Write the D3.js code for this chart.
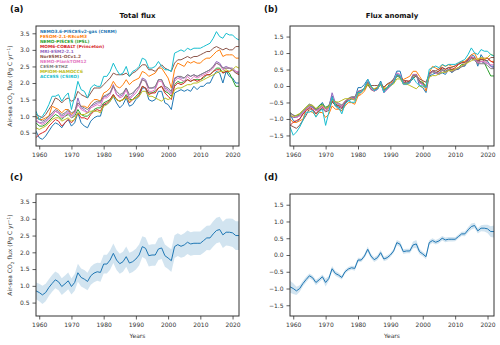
<!DOCTYPE html>
<html>
<head>
<meta charset="utf-8">
<script src="https://cdn.jsdelivr.net/npm/d3@7"></script>
<style>
  body { margin: 0; background: #fff; }
  svg { font-family: "DejaVu Sans", sans-serif; }
</style>
</head>
<body>
<svg width="500" height="345"></svg>
<script>
const svg = d3.select("svg")

// years 1959..2022
const years = d3.range(1959, 2023)

const modelNames = [
    "NEMO3.6-PISCESv2-gas (CNRM)", "FESOM-2.1-REcoM3", "NEMO-PISCES (IPSL)",
    "MOM6-COBALT (Princeton)", "MRI-ESM2-2.1", "NorESM1-OCv1.2",
    "NEMO-PlankTOM12", "CESM-ETHZ", "MPIOM-HAMOCC6", "ACCESS (CSIRO)"
]
const modelColors = ["#1f77b4", "#ff7f0e", "#2ca02c", "#d62728", "#9467bd",
    "#8c564b", "#e377c2", "#7f7f7f", "#bcbd22", "#17becf"]

// total flux per model, Pg C / yr, 1959-2022
const cnrm = [0.55, 0.35, 0.3, 0.4, 0.55, 0.7, 0.8, 0.75, 0.65, 0.8, 0.9,
    0.7, 0.8, 1.1, 0.8, 0.7, 0.65, 0.85, 0.95, 1.0, 1.0,
    1.35, 1.35, 1.45, 1.6, 1.4, 1.25, 1.35, 1.55, 1.3, 1.35,
    1.5, 1.6, 1.85, 1.85, 1.5, 1.45, 1.5, 1.75, 1.75, 1.4,
    1.35, 1.2, 1.7, 1.75, 1.8, 1.75, 1.8, 1.75, 1.9, 1.8,
    1.9, 1.9, 2.0, 2.0, 2.2, 2.35, 2.3, 2.0, 2.35, 2.2,
    2.15, 2.0, 2.0]
const fesom = [1.0, 0.9, 0.9, 0.95, 1.0, 1.3, 1.25, 1.2, 1.1, 1.2, 1.2,
    1.05, 1.15, 1.4, 1.3, 1.3, 1.25, 1.4, 1.5, 1.5, 1.45,
    1.7, 1.75, 1.85, 2.05, 1.9, 1.85, 1.95, 2.1, 1.95, 2.05,
    2.1, 2.15, 2.35, 2.3, 2.2, 2.25, 2.3, 2.45, 2.45, 2.3,
    2.15, 1.85, 2.4, 2.6, 2.55, 2.5, 2.65, 2.6, 2.65, 2.6,
    2.6, 2.7, 2.75, 2.75, 2.85, 2.95, 3.0, 2.8, 2.85, 2.85,
    2.85, 2.75, 2.75]
const ipsl = [0.8, 0.7, 0.7, 0.75, 0.85, 0.95, 1.05, 1.0, 0.9, 1.0, 1.05,
    0.95, 1.0, 1.2, 1.05, 1.0, 1.0, 1.1, 1.2, 1.25, 1.25,
    1.4, 1.45, 1.5, 1.65, 1.5, 1.45, 1.5, 1.65, 1.5, 1.5,
    1.6, 1.7, 1.9, 1.85, 1.7, 1.7, 1.75, 1.85, 1.9, 1.75,
    1.7, 1.6, 1.95, 2.05, 2.0, 2.05, 2.1, 2.05, 2.1, 2.1,
    2.1, 2.15, 2.25, 2.25, 2.35, 2.45, 2.45, 2.3, 2.35, 2.3,
    2.1, 1.9, 1.9]
const princeton = [0.35, 0.45, 0.5, 0.55, 0.7, 0.8, 0.9, 0.85, 0.7, 0.8, 0.9,
    0.8, 0.9, 1.1, 0.95, 0.95, 0.9, 1.05, 1.15, 1.2, 1.15,
    1.35, 1.4, 1.5, 1.65, 1.5, 1.45, 1.5, 1.6, 1.4, 1.5,
    1.55, 1.65, 1.9, 1.85, 1.65, 1.7, 1.7, 1.85, 1.9, 1.7,
    1.6, 1.5, 1.9, 2.0, 1.95, 2.0, 2.1, 2.05, 2.1, 2.05,
    2.1, 2.2, 2.25, 2.25, 2.35, 2.4, 2.4, 2.3, 2.35, 2.35,
    2.4, 2.3, 2.25]
const mri = [0.85, 0.8, 0.8, 0.85, 0.95, 1.05, 1.15, 1.1, 1.0, 1.05, 1.15,
    1.0, 1.1, 1.55, 1.25, 1.2, 1.1, 1.3, 1.35, 1.4, 1.4,
    1.6, 1.6, 1.7, 1.95, 1.65, 1.6, 1.65, 1.85, 1.55, 1.65,
    1.8, 1.9, 2.15, 2.1, 1.85, 1.85, 1.85, 2.1, 2.1, 1.85,
    1.8, 1.7, 2.15, 2.2, 2.15, 2.15, 2.25, 2.2, 2.25, 2.2,
    2.25, 2.3, 2.35, 2.4, 2.5, 2.65, 2.6, 2.45, 2.5, 2.45,
    2.45, 2.35, 2.3]
const noresm = [1.05, 1.0, 0.95, 1.05, 1.2, 1.35, 1.55, 1.5, 1.4, 1.5, 1.55,
    1.45, 1.5, 1.75, 1.65, 1.6, 1.55, 1.7, 1.85, 1.85, 1.85,
    1.95, 2.05, 2.15, 2.3, 2.25, 2.25, 2.25, 2.3, 2.2, 2.3,
    2.35, 2.45, 2.55, 2.55, 2.4, 2.4, 2.35, 2.45, 2.55, 2.45,
    2.4, 2.35, 2.6, 2.7, 2.7, 2.75, 2.8, 2.75, 2.8, 2.8,
    2.85, 2.9, 2.95, 2.95, 3.05, 3.1, 3.05, 3.0, 3.05, 3.0,
    3.0, 3.1, 3.1]
const plankTom = [0.9, 0.8, 0.75, 0.8, 0.9, 1.0, 1.15, 1.1, 0.95, 1.0, 1.1,
    0.95, 1.05, 1.35, 1.2, 1.15, 1.1, 1.25, 1.3, 1.35, 1.3,
    1.55, 1.55, 1.65, 1.9, 1.65, 1.55, 1.6, 1.8, 1.5, 1.6,
    1.7, 1.85, 2.1, 2.05, 1.75, 1.75, 1.8, 2.05, 2.05, 1.8,
    1.75, 1.65, 2.05, 2.15, 2.1, 2.05, 2.2, 2.1, 2.2, 2.15,
    2.2, 2.25, 2.3, 2.35, 2.45, 2.6, 2.55, 2.4, 2.45, 2.45,
    2.4, 2.35, 2.35]
const cesm = [0.95, 0.9, 0.85, 0.9, 1.0, 1.1, 1.2, 1.15, 1.05, 1.1, 1.2,
    1.1, 1.15, 1.4, 1.3, 1.25, 1.2, 1.3, 1.4, 1.45, 1.45,
    1.6, 1.65, 1.7, 1.9, 1.75, 1.65, 1.7, 1.85, 1.65, 1.7,
    1.8, 1.9, 2.1, 2.05, 1.85, 1.85, 1.9, 2.1, 2.1, 1.9,
    1.85, 1.75, 2.1, 2.2, 2.2, 2.15, 2.25, 2.2, 2.25, 2.2,
    2.25, 2.3, 2.35, 2.4, 2.5, 2.6, 2.55, 2.45, 2.45, 2.45,
    2.4, 2.3, 2.3]
const mpiom = [0.65, 0.6, 0.65, 0.7, 0.8, 0.9, 0.95, 0.95, 0.85, 0.9, 0.95,
    0.85, 0.9, 1.1, 1.05, 1.05, 1.1, 1.15, 1.15, 1.15, 1.1,
    1.3, 1.35, 1.45, 1.6, 1.5, 1.45, 1.5, 1.55, 1.45, 1.5,
    1.55, 1.6, 1.75, 1.75, 1.6, 1.6, 1.55, 1.5, 1.45, 1.55,
    1.5, 1.55, 1.8, 1.85, 1.85, 1.9, 1.95, 1.95, 2.0, 2.0,
    2.05, 2.1, 2.15, 2.2, 2.25, 2.3, 2.35, 2.35, 2.4, 2.35,
    2.4, 2.5, 2.45]
const access = [1.15, 0.9, 1.0, 1.15, 1.35, 1.6, 1.6, 1.65, 1.45, 1.6, 1.7,
    1.2, 1.6, 2.05, 1.8, 1.75, 1.55, 1.85, 1.95, 1.9, 1.9,
    2.2, 2.2, 2.35, 2.6, 2.4, 2.25, 2.3, 2.5, 2.2, 2.35,
    2.4, 2.5, 2.75, 2.7, 2.45, 2.45, 2.5, 2.65, 2.5, 2.4,
    2.4, 2.35, 2.9, 2.95, 3.0, 2.95, 3.05, 3.0, 3.05, 3.05,
    3.05, 3.1, 3.15, 3.2, 3.35, 3.55, 3.4, 3.35, 3.5, 3.45,
    3.45, 3.35, 3.3]

const models = [cnrm, fesom, ipsl, princeton, mri, noresm, plankTom, cesm, mpiom, access]

// ensemble mean and spread (c) and (d)
const totalMean = [0.85, 0.8, 0.73, 0.8, 0.95, 1.07, 1.18, 1.12, 0.98, 1.06, 1.15,
    0.98, 1.1, 1.39, 1.25, 1.2, 1.13, 1.3, 1.38, 1.42, 1.4,
    1.65, 1.65, 1.77, 1.97, 1.77, 1.66, 1.72, 1.87, 1.68, 1.72,
    1.8, 1.92, 2.17, 2.12, 1.9, 1.92, 1.92, 2.1, 2.13, 1.9,
    1.83, 1.75, 2.17, 2.23, 2.18, 2.22, 2.3, 2.25, 2.27, 2.27,
    2.27, 2.35, 2.43, 2.43, 2.55, 2.65, 2.68, 2.52, 2.6, 2.6,
    2.58, 2.5, 2.5]
const totalStd = [0.25, 0.26, 0.27, 0.26, 0.25, 0.25, 0.25, 0.25, 0.25, 0.25, 0.25,
    0.24, 0.25, 0.27, 0.27, 0.27, 0.26, 0.27, 0.27, 0.27, 0.28,
    0.28, 0.28, 0.29, 0.29, 0.3, 0.3, 0.3, 0.3, 0.31, 0.31,
    0.31, 0.31, 0.31, 0.32, 0.32, 0.32, 0.32, 0.33, 0.33, 0.33,
    0.33, 0.34, 0.34, 0.34, 0.34, 0.35, 0.35, 0.35, 0.35, 0.35,
    0.35, 0.36, 0.36, 0.37, 0.38, 0.38, 0.38, 0.39, 0.4, 0.41,
    0.42, 0.43, 0.43]
const anomMean = [-0.95, -1.0, -1.07, -1.0, -0.85, -0.73, -0.62, -0.68, -0.82, -0.74, -0.65,
    -0.82, -0.7, -0.41, -0.55, -0.6, -0.67, -0.5, -0.42, -0.38, -0.4,
    -0.15, -0.15, -0.03, 0.17, -0.03, -0.14, -0.08, 0.07, -0.12, -0.08,
    0.0, 0.12, 0.37, 0.32, 0.1, 0.12, 0.12, 0.3, 0.33, 0.1,
    0.03, -0.05, 0.37, 0.43, 0.38, 0.42, 0.5, 0.45, 0.47, 0.47,
    0.47, 0.55, 0.63, 0.63, 0.75, 0.85, 0.88, 0.72, 0.8, 0.8,
    0.78, 0.7, 0.7]
const anomStd = [0.18, 0.16, 0.12, 0.1, 0.08, 0.08, 0.07, 0.07, 0.08, 0.07, 0.07,
    0.12, 0.07, 0.08, 0.07, 0.07, 0.06, 0.06, 0.06, 0.06, 0.07,
    0.07, 0.06, 0.06, 0.08, 0.07, 0.07, 0.07, 0.08, 0.07, 0.07,
    0.06, 0.06, 0.08, 0.08, 0.07, 0.07, 0.07, 0.1, 0.12, 0.08,
    0.07, 0.08, 0.07, 0.07, 0.07, 0.07, 0.07, 0.07, 0.07, 0.07,
    0.06, 0.06, 0.06, 0.07, 0.08, 0.09, 0.08, 0.08, 0.09, 0.1,
    0.12, 0.16, 0.18]

const yTicksTotal = [0.5, 1.0, 1.5, 2.0, 2.5, 3.0, 3.5]
const yTicksAnom = [-1.5, -1.0, -0.5, 0.0, 0.5, 1.0, 1.5]
const xTicks = [1960, 1970, 1980, 1990, 2000, 2010, 2020]

// panel boxes
const panels = {
    a: { x0: 36, x1: 239, y0: 26, y1: 146 },
    b: { x0: 290, x1: 494, y0: 26, y1: 146 },
    c: { x0: 36, x1: 239, y0: 194, y1: 316 },
    d: { x0: 290, x1: 494, y0: 194, y1: 316 }
}
const fmtTick = d => d3.format(".1f")(d).replace("-", "\u2212")

function makePanel(key, ydom, yticks, letter, title, showYLabel, showXLabel) {
    const p = panels[key]
    const x = d3.scaleLinear().domain([1959, 2022]).range([p.x0, p.x1])
    const y = d3.scaleLinear().domain(ydom).range([p.y1, p.y0])
    const g = svg.append("g")

    g.append("clipPath").attr("id", "clip-" + key)
        .append("rect").attr("x", p.x0).attr("y", p.y0)
        .attr("width", p.x1 - p.x0).attr("height", p.y1 - p.y0)

    const xAxis = g.append("g").attr("transform", `translate(0,${p.y1})`)
        .call(d3.axisBottom(x).tickValues(xTicks).tickFormat(d3.format("d")).tickSize(3.5).tickPadding(3.5))
    const yAxis = g.append("g").attr("transform", `translate(${p.x0},0)`)
        .call(d3.axisLeft(y).tickValues(yticks).tickFormat(fmtTick).tickSize(3.5).tickPadding(3))
    for (const ax of [xAxis, yAxis]) {
        ax.select(".domain").remove()
        ax.selectAll("line").attr("stroke", "#333").attr("stroke-width", 0.8)
        ax.selectAll("text").attr("font-size", 6).attr("fill", "#333")
            .attr("font-family", "DejaVu Sans")
    }

    const plot = g.append("g").attr("clip-path", `url(#clip-${key})`)

    g.append("rect").attr("x", p.x0).attr("y", p.y0)
        .attr("width", p.x1 - p.x0).attr("height", p.y1 - p.y0)
        .attr("fill", "none").attr("stroke", "#333").attr("stroke-width", 1)

    g.append("text").attr("x", p.x0 - 26).attr("y", p.y0 - 14)
        .attr("font-size", 8.5).attr("font-weight", "bold").attr("fill", "#111")
        .text(letter)

    if (title) {
        g.append("text").attr("x", (p.x0 + p.x1) / 2).attr("y", p.y0 - 8)
            .attr("text-anchor", "middle").attr("font-size", 7).attr("font-weight", "bold")
            .attr("fill", "#111").text(title)
    }

    if (showYLabel) {
        const t = g.append("text")
            .attr("transform", `translate(${p.x0 - 24},${(p.y0 + p.y1) / 2}) rotate(-90)`)
            .attr("text-anchor", "middle").attr("font-size", 6).attr("fill", "#333")
        t.append("tspan").text("Air-sea CO")
        t.append("tspan").attr("font-size", 4.2).attr("dy", 1.5).text("2")
        t.append("tspan").attr("dy", -1.5).text(" flux (Pg C yr")
        t.append("tspan").attr("font-size", 4.2).attr("dy", -2.5).text("\u22121")
        t.append("tspan").attr("dy", 2.5).text(")")
    }
    if (showXLabel) {
        g.append("text").attr("x", (p.x0 + p.x1) / 2).attr("y", p.y1 + 22)
            .attr("text-anchor", "middle").attr("font-size", 6).attr("fill", "#333")
            .text("Years")
    }
    return { x, y, plot, p }
}

// (a) total flux per model
const A = makePanel("a", [0.1, 3.72], yTicksTotal, "(a)", "Total flux", true, false)
models.forEach((vals, i) => {
    const line = d3.line().x((d, j) => A.x(years[j])).y(d => A.y(d))
    A.plot.append("path").attr("d", line(vals))
        .attr("fill", "none").attr("stroke", modelColors[i]).attr("stroke-width", 1)
})
modelNames.forEach((name, i) => {
    svg.append("text").attr("x", 40).attr("y", 33 + i * 4.95)
        .attr("font-size", 4.3).attr("font-weight", "bold")
        .attr("fill", modelColors[i]).text(name)
})

// (b) anomaly: each model minus its own 1959-2022 mean
const B = makePanel("b", [-1.82, 1.82], yTicksAnom, "(b)", "Flux anomaly", false, false)
models.forEach((vals, i) => {
    const m = d3.mean(vals)
    const line = d3.line().x((d, j) => B.x(years[j])).y(d => B.y(d - m))
    B.plot.append("path").attr("d", line(vals))
        .attr("fill", "none").attr("stroke", modelColors[i]).attr("stroke-width", 1)
})

// (c) and (d) ensemble mean with spread
function meanPanel(P, mean, std) {
    const area = d3.area().x((d, j) => P.x(years[j]))
        .y0((d, j) => P.y(d - std[j])).y1((d, j) => P.y(d + std[j]))
    P.plot.append("path").attr("d", area(mean))
        .attr("fill", "#1f77b4").attr("fill-opacity", 0.2)
    const line = d3.line().x((d, j) => P.x(years[j])).y(d => P.y(d))
    P.plot.append("path").attr("d", line(mean))
        .attr("fill", "none").attr("stroke", "#1f77b4").attr("stroke-width", 1)
}
const C = makePanel("c", [0.1, 3.74], yTicksTotal, "(c)", null, true, true)
meanPanel(C, totalMean, totalStd)
const D = makePanel("d", [-1.82, 1.82], yTicksAnom, "(d)", null, false, true)
meanPanel(D, anomMean, anomStd)
</script>
</body>
</html>
